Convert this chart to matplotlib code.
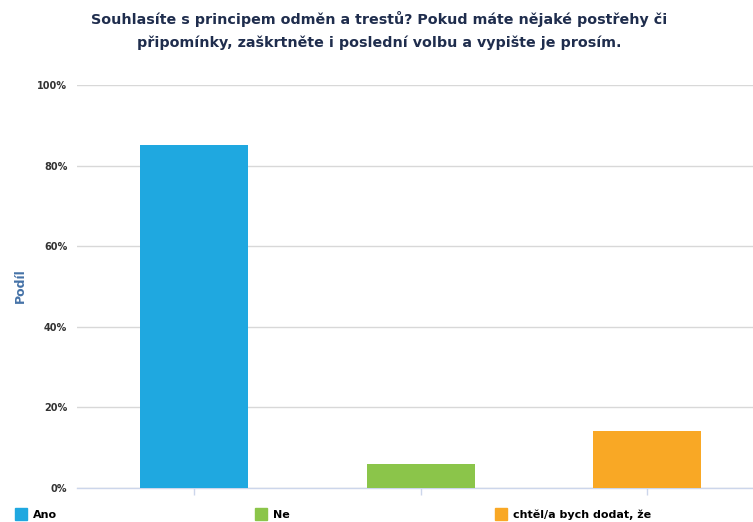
import matplotlib.pyplot as plt
from matplotlib.lines import Line2D

categories = ["Ano", "Ne", "chtěl/a bych dodat, že"]
values = [85.2, 6.0, 14.2]
colors = ["#1fa8e0", "#8bc54a", "#f9a825"]
yticks = [0, 20, 40, 60, 80, 100]
ytick_labels = ["0%", "20%", "40%", "60%", "80%", "100%"]

fig = plt.figure(figsize=(7.53, 5.22), dpi=100)
ax = fig.add_axes([77 / 753, 1 - 488 / 522, 676 / 753, 403 / 522])

x = list(range(len(categories)))
ax.bar(x, values, width=0.477, color=colors, zorder=3)

ax.set_xlim(-0.517, 2.468)
ax.set_ylim(0, 100)
ax.set_yticks(yticks)
ax.set_yticklabels(ytick_labels, fontsize=7, fontweight="bold", color="#333333")
ax.set_xticks(x)
ax.set_xticklabels([])
ax.tick_params(axis="y", length=0, pad=7)
ax.tick_params(axis="x", length=5, color="#ccd6eb", width=1)
ax.grid(axis="y", color="#d8d8d8", linewidth=1, zorder=0)
for side in ["top", "right", "left"]:
    ax.spines[side].set_visible(False)
ax.spines["bottom"].set_color("#ccd6eb")
ax.spines["bottom"].set_linewidth(1)

fig.text(20 / 753, 1 - 286 / 522, "Podíl", rotation=90, ha="center", va="center",
         fontsize=9, fontweight="bold", color="#4572a7")

fig.text(379 / 753, 1 - 11 / 522, "Souhlasíte s principem odměn a trestů? Pokud máte nějaké postřehy či\n"
         "připomínky, zaškrtněte i poslední volbu a vypište je prosím.",
         ha="center", va="top", fontsize=10.3, fontweight="bold", color="#1f2d4d",
         linespacing=1.75)

legend_x = [14, 254, 494]
for name, c, lx in zip(categories, colors, legend_x):
    h = Line2D([], [], marker="s", linestyle="", markersize=9, color=c)
    fig.legend([h], [name], loc="center left", bbox_to_anchor=(lx / 753, 1 - 515 / 522),
               frameon=False, prop={"size": 8, "weight": "bold"}, handletextpad=0.5,
               handlelength=1.2, borderaxespad=0, borderpad=0)

fig.savefig("out.png", dpi=100)
